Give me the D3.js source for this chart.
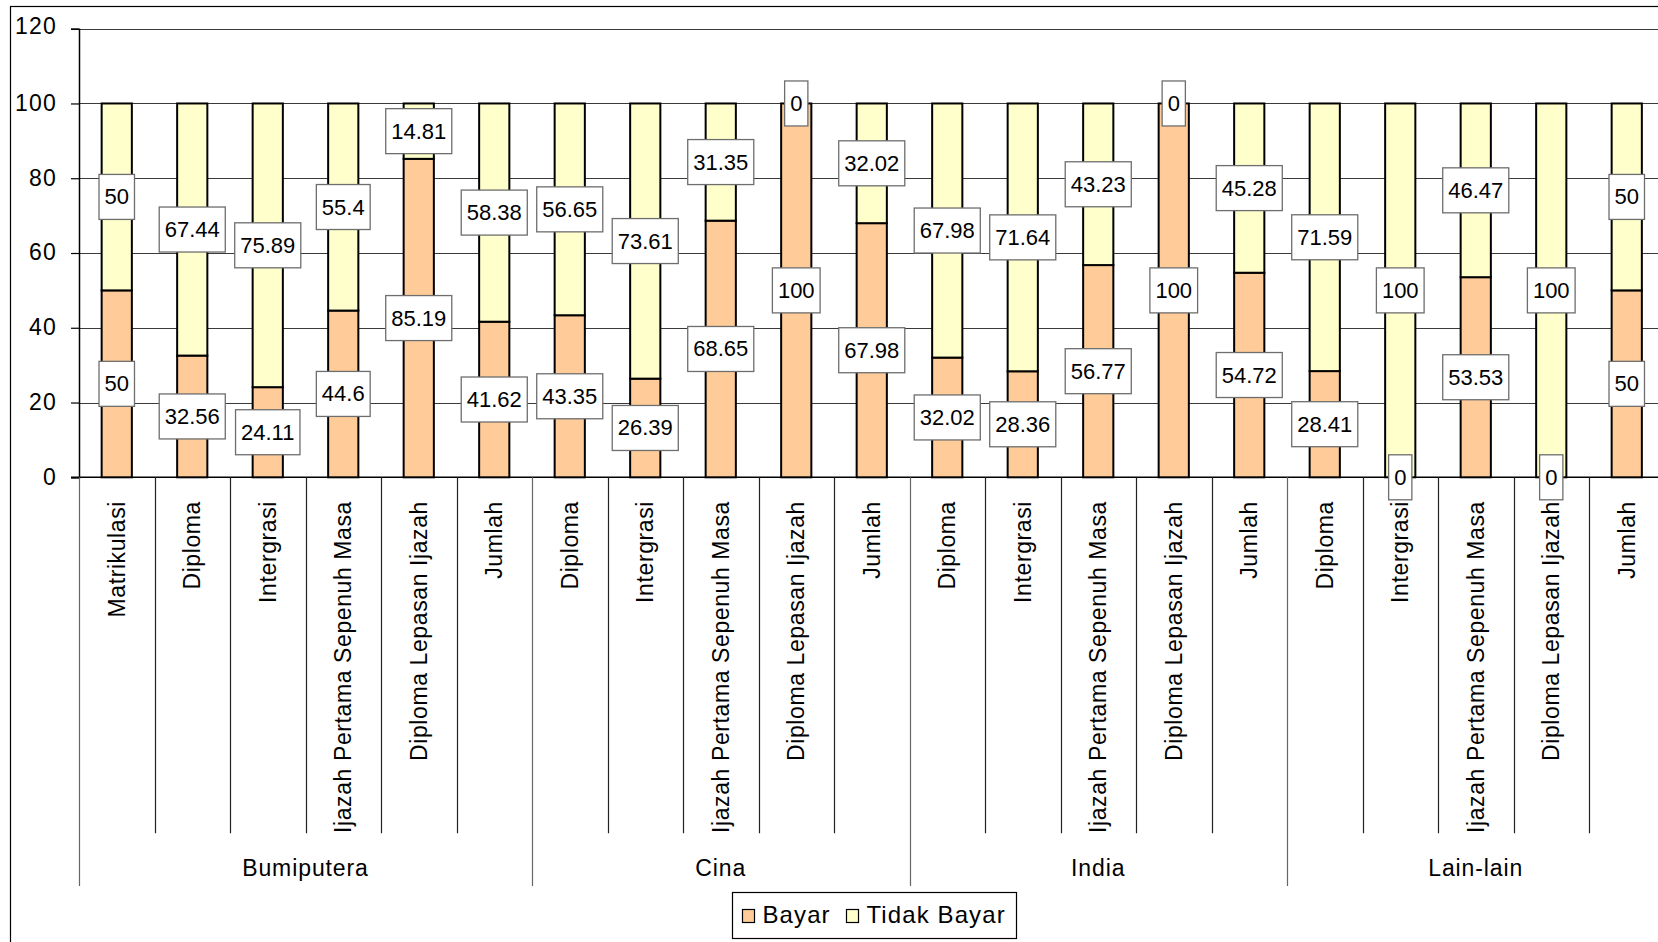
<!DOCTYPE html>
<html>
<head>
<meta charset="utf-8">
<script src="https://cdn.jsdelivr.net/npm/d3@7"></script>
<style>
  html, body { margin: 0; padding: 0; background: #fff; overflow: hidden; }
  svg { display: block; }
  text { font-family: "Liberation Sans", Arial, sans-serif; fill: #000; }
</style>
</head>
<body>
<svg id="chart" width="1658" height="942"></svg>
<script>
// ---- data ----
const groups = ["Bumiputera", "Cina", "India", "Lain-lain"];
const categories = [
  "Matrikulasi", "Diploma", "Intergrasi", "Ijazah Pertama Sepenuh Masa", "Diploma Lepasan Ijazah", "Jumlah",
  "Diploma", "Intergrasi", "Ijazah Pertama Sepenuh Masa", "Diploma Lepasan Ijazah", "Jumlah",
  "Diploma", "Intergrasi", "Ijazah Pertama Sepenuh Masa", "Diploma Lepasan Ijazah", "Jumlah",
  "Diploma", "Intergrasi", "Ijazah Pertama Sepenuh Masa", "Diploma Lepasan Ijazah", "Jumlah"
];
const categoryGroup = [
  "Bumiputera", "Bumiputera", "Bumiputera", "Bumiputera", "Bumiputera", "Bumiputera",
  "Cina", "Cina", "Cina", "Cina", "Cina",
  "India", "India", "India", "India", "India",
  "Lain-lain", "Lain-lain", "Lain-lain", "Lain-lain", "Lain-lain"
];
const bayar = [50, 32.56, 24.11, 44.6, 85.19, 41.62,
               43.35, 26.39, 68.65, 100, 67.98,
               32.02, 28.36, 56.77, 100, 54.72,
               28.41, 0, 53.53, 0, 50];
const tidakBayar = [50, 67.44, 75.89, 55.4, 14.81, 58.38,
                    56.65, 73.61, 31.35, 0, 32.02,
                    67.98, 71.64, 43.23, 0, 45.28,
                    71.59, 100, 46.47, 100, 50];
const seriesNames = ["Bayar", "Tidak Bayar"];
const seriesColors = ["#FFCC99", "#FFFFCC"];
const yTicks = [0, 20, 40, 60, 80, 100, 120];

// ---- layout ----
const svg = d3.select("#chart");
const X0 = 79, BAND = 75.5;
const x = d3.scaleBand().domain(d3.range(categories.length))
  .range([X0, X0 + BAND * categories.length]).paddingInner(0).paddingOuter(0);
const y = d3.scaleLinear().domain([0, 120]).range([477.3, 28.7]);
const barW = x.bandwidth() / 2.5;

// outer chart border
svg.append("rect").attr("x", 10.5).attr("y", 6.5).attr("width", 1700).attr("height", 1000)
  .attr("fill", "#fff").attr("stroke", "#000").attr("stroke-width", 1.2);

// gridlines
svg.append("g").selectAll("line").data(yTicks.filter(t => t > 0)).join("line")
  .attr("x1", X0).attr("x2", 1700)
  .attr("y1", d => Math.round(y(d)) + 0.5).attr("y2", d => Math.round(y(d)) + 0.5)
  .attr("stroke", "#3a3a3a").attr("stroke-width", 1);

// y axis
const yAxis = d3.axisLeft(y).tickValues(yTicks).tickSize(8).tickPadding(14).tickFormat(d3.format("d"));
const yG = svg.append("g").attr("transform", `translate(${X0},0)`).call(yAxis);
yG.select(".domain").attr("stroke", "#000").attr("stroke-width", 1.5);
yG.selectAll(".tick line").attr("stroke", "#000").attr("stroke-width", 1.2);
yG.selectAll(".tick text").attr("font-size", 23).attr("letter-spacing", 1.2)
  .attr("font-family", "Liberation Sans, Arial, sans-serif").attr("fill", "#000")
  .attr("dy", d => d === 120 ? "0.2em" : "0.3em");

// x axis baseline
svg.append("line").attr("x1", X0 - 8).attr("x2", 1700)
  .attr("y1", y(0)).attr("y2", y(0)).attr("stroke", "#000").attr("stroke-width", 1.5);

// category separators & group separators
const boundaries = d3.range(categories.length + 1);
const isGroupEdge = i => i === 0 || i === categories.length || categoryGroup[i] !== categoryGroup[i - 1];
svg.append("g").selectAll("line").data(boundaries).join("line")
  .attr("x1", i => Math.round(X0 + i * BAND) + 0.5)
  .attr("x2", i => Math.round(X0 + i * BAND) + 0.5)
  .attr("y1", y(0))
  .attr("y2", i => isGroupEdge(i) ? 886 : 833.3)
  .attr("stroke", i => isGroupEdge(i) ? "#666" : "#222")
  .attr("stroke-width", 1.2);

// stacked bars
const rows = categories.map((c, i) => ({ i, Bayar: bayar[i], "Tidak Bayar": tidakBayar[i] }));
const stacked = d3.stack().keys(seriesNames)(rows);
const barsG = svg.append("g");
stacked.forEach((layer, si) => {
  barsG.append("g").selectAll("rect").data(layer.filter(d => d[1] - d[0] > 0)).join("rect")
    .attr("x", d => x(d.data.i) + (x.bandwidth() - barW) / 2)
    .attr("width", barW)
    .attr("y", d => y(d[1]))
    .attr("height", d => y(d[0]) - y(d[1]))
    .attr("fill", seriesColors[si])
    .attr("stroke", "#000").attr("stroke-width", 2);
});

// category labels (rotated)
svg.append("g").selectAll("text").data(categories).join("text")
  .attr("transform", (d, i) => `translate(${x(i) + x.bandwidth() / 2 + 8},501) rotate(-90)`)
  .attr("text-anchor", "end")
  .attr("font-size", 23).attr("letter-spacing", 0.6)
  .text(d => d);

// group labels
groups.forEach(g => {
  const idx = categoryGroup.map((c, i) => c === g ? i : -1).filter(i => i >= 0);
  const cx = (x(idx[0]) + x(idx[idx.length - 1]) + x.bandwidth()) / 2;
  svg.append("text").attr("x", cx).attr("y", 876).attr("text-anchor", "middle")
    .attr("font-size", 23).attr("letter-spacing", 0.9).text(g);
});

// data labels
const labelsG = svg.append("g");
stacked.forEach((layer, si) => {
  layer.forEach(d => {
    const v = d.data[seriesNames[si]];
    const cx = x(d.data.i) + x.bandwidth() / 2;
    const cy = y((d[0] + d[1]) / 2);
    const g = labelsG.append("g");
    const rect = g.append("rect");
    const t = g.append("text").attr("x", cx).attr("y", cy + 7.5)
      .attr("text-anchor", "middle").attr("font-size", 22).text(String(v));
    const w = t.node().getComputedTextLength() + 11;
    const h = 45;
    rect.attr("x", cx - w / 2).attr("y", cy - h / 2).attr("width", w).attr("height", h)
      .attr("fill", "#fff").attr("stroke", "#6e6e6e").attr("stroke-width", 1.3);
  });
});

// legend
const lg = svg.append("g");
lg.append("rect").attr("x", 732.5).attr("y", 892.5).attr("width", 284).attr("height", 46)
  .attr("fill", "#fff").attr("stroke", "#000").attr("stroke-width", 1.2);
const legendItems = [
  { name: seriesNames[0], color: seriesColors[0], sx: 742.5 },
  { name: seriesNames[1], color: seriesColors[1], sx: 846.5 }
];
legendItems.forEach(it => {
  lg.append("rect").attr("x", it.sx).attr("y", 909.5).attr("width", 12).attr("height", 13)
    .attr("fill", it.color).attr("stroke", "#000").attr("stroke-width", 1.2);
  lg.append("text").attr("x", it.sx + 20).attr("y", 923.3).attr("font-size", 24)
    .attr("letter-spacing", 1.1).text(it.name);
});
</script>
</body>
</html>
